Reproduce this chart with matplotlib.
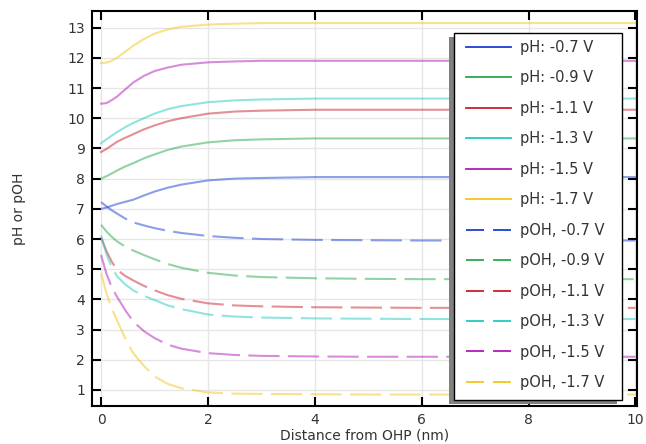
import numpy as np
import matplotlib
matplotlib.use('Agg')
import matplotlib.pyplot as plt
from matplotlib.lines import Line2D
from matplotlib.patches import Rectangle

# distance from OHP (nm)
x = [0, 0.1, 0.2, 0.3, 0.45, 0.6, 0.8, 1.0, 1.25, 1.5, 2.0, 2.5, 3.0, 4.0, 5.0, 6.0, 8.0, 10.0]

voltages = ['-0.7', '-0.9', '-1.1', '-1.3', '-1.5', '-1.7']
colors = ['#1a3fd0', '#27a84a', '#c8202a', '#22c9c0', '#b01ab8', '#f5c518']

ph_07 = [7.0, 7.04, 7.1, 7.16, 7.23, 7.3, 7.44, 7.57, 7.7, 7.8, 7.94, 8.0, 8.02, 8.05, 8.05, 8.05, 8.05, 8.05]
ph_09 = [8.0, 8.08, 8.17, 8.27, 8.4, 8.51, 8.67, 8.8, 8.95, 9.06, 9.2, 9.27, 9.3, 9.33, 9.33, 9.33, 9.33, 9.33]
ph_11 = [8.88, 8.98, 9.1, 9.22, 9.35, 9.47, 9.63, 9.76, 9.9, 10.0, 10.15, 10.22, 10.25, 10.28, 10.28, 10.28, 10.28, 10.28]
ph_13 = [9.17, 9.3, 9.42, 9.54, 9.7, 9.84, 10.0, 10.15, 10.3, 10.4, 10.53, 10.59, 10.62, 10.65, 10.65, 10.65, 10.65, 10.65]
ph_15 = [10.48, 10.5, 10.6, 10.72, 10.95, 11.18, 11.4, 11.56, 11.68, 11.77, 11.85, 11.88, 11.9, 11.9, 11.9, 11.9, 11.9, 11.9]
ph_17 = [11.82, 11.84, 11.9, 12.0, 12.2, 12.4, 12.62, 12.8, 12.94, 13.03, 13.1, 13.13, 13.15, 13.15, 13.15, 13.15, 13.15, 13.15]

poh_07 = [7.22, 7.08, 6.95, 6.84, 6.68, 6.55, 6.45, 6.36, 6.27, 6.2, 6.1, 6.04, 6.0, 5.97, 5.96, 5.95, 5.95, 5.95]
poh_09 = [6.47, 6.25, 6.07, 5.92, 5.75, 5.62, 5.47, 5.33, 5.17, 5.05, 4.88, 4.79, 4.74, 4.7, 4.68, 4.67, 4.67, 4.67]
poh_11 = [6.05, 5.6, 5.25, 4.98, 4.78, 4.63, 4.45, 4.3, 4.14, 4.02, 3.87, 3.8, 3.77, 3.74, 3.73, 3.72, 3.72, 3.72]
poh_13 = [6.12, 5.5, 5.05, 4.76, 4.5, 4.3, 4.12, 3.98, 3.8, 3.68, 3.5, 3.43, 3.4, 3.37, 3.36, 3.35, 3.35, 3.35]
poh_15 = [5.47, 4.85, 4.4, 4.08, 3.65, 3.27, 2.95, 2.72, 2.5, 2.37, 2.22, 2.16, 2.13, 2.11, 2.1, 2.1, 2.1, 2.1]
poh_17 = [4.87, 4.2, 3.7, 3.3, 2.72, 2.22, 1.8, 1.45, 1.2, 1.06, 0.92, 0.88, 0.87, 0.86, 0.85, 0.85, 0.85, 0.85]

ph = [ph_07, ph_09, ph_11, ph_13, ph_15, ph_17]
poh = [poh_07, poh_09, poh_11, poh_13, poh_15, poh_17]

plt.rcParams['font.family'] = 'DejaVu Sans'
txt = '#333333'
W, H = 646, 444

fig = plt.figure(figsize=(6.46, 4.44), dpi=100)
ax = fig.add_axes([92 / W, 38 / H, 545 / W, 395 / H])

lw = 1.5
for c, y in zip(colors, ph):
    ax.plot(x, y, color=c, lw=lw, alpha=0.5)
for c, y in zip(colors, poh):
    ax.plot(x, y, color=c, lw=lw, alpha=0.5, dashes=(15, 4))

ax.set_xlim(-0.17, 10.03)
ax.set_ylim(0.47, 13.55)
ax.set_xticks(range(0, 11, 2))
ax.set_yticks(range(1, 14))
ax.grid(True, color='#e6e6e6', lw=1)
ax.set_axisbelow(True)
ax.tick_params(direction='in', length=6.5, width=1.5, top=True, right=True,
               labelsize=10, labelcolor=txt, pad=5)
for s in ax.spines.values():
    s.set_linewidth(1.5)
ax.set_xlabel('Distance from OHP (nm)', fontsize=10, color=txt, labelpad=1)
ax.set_ylabel('pH or pOH', fontsize=10, color=txt, labelpad=30)

# legend box with grey shadow to the lower-left, drawn by hand
box_l, box_r, box_t, box_b = 454, 622, 33, 400
ax.add_artist(Rectangle(((box_l - 5) / W, (H - box_b - 4) / H), (box_r - box_l) / W,
                        (box_b - box_t) / H, transform=fig.transFigure,
                        facecolor='#808080', edgecolor='none', zorder=4.7, clip_on=False))
ax.add_artist(Rectangle((box_l / W, (H - box_b) / H), (box_r - box_l) / W,
                        (box_b - box_t) / H, transform=fig.transFigure,
                        facecolor='white', edgecolor='black', lw=1.0, zorder=4.8, clip_on=False))

handles = [Line2D([], [], color=c, lw=1.3) for c in colors]
handles += [Line2D([], [], color=c, lw=1.3, dashes=(10, 5)) for c in colors]
labels = ['pH: %s V' % v for v in voltages] + ['pOH, %s V' % v for v in voltages]
leg = ax.legend(handles, labels, loc='upper left', bbox_to_anchor=(466 / W, (H - 40) / H),
                bbox_transform=fig.transFigure, borderaxespad=0, borderpad=0, fontsize=10.5,
                labelspacing=1.06, handlelength=3.1, handletextpad=0.6, frameon=False)
for t in leg.get_texts():
    t.set_color(txt)

fig.savefig('out.png', dpi=100)
